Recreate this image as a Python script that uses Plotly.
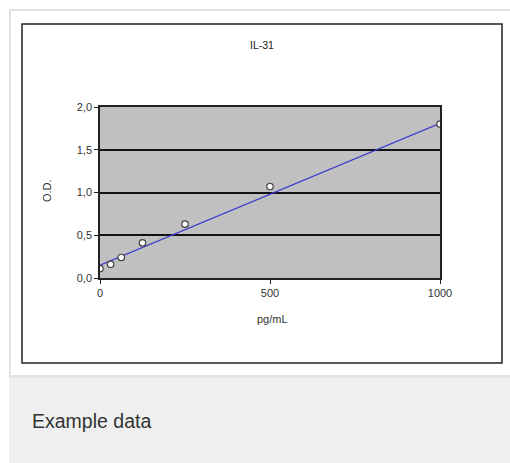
import plotly.graph_objects as go

# ---- data ----
conc_pg_ml = [0, 31.25, 62.5, 125, 250, 500, 1000]
od_values = [0.11, 0.16, 0.24, 0.41, 0.63, 1.07, 1.80]
fit_x = [0, 1000]
fit_y = [0.15, 1.81]
x_ticks = [0, 500, 1000]
y_ticks = [0.0, 0.5, 1.0, 1.5, 2.0]
y_tick_labels = ["0,0", "0,5", "1,0", "1,5", "2,0"]
title_text = "IL-31"
x_title = "pg/mL"
y_title = "O.D."
caption = "Example data"

W, H = 510, 463
L, R, T, B = 100, 440, 107, 278  # plot area in pixels


def px(x):
    return (x - L) / (R - L)


def py(y):
    return (B - y) / (B - T)


FONT = "Liberation Sans, Arial, sans-serif"

fig = go.Figure()
fig.add_trace(go.Scatter(
    x=fit_x, y=fit_y, mode="lines",
    line=dict(color="#3b3bd0", width=1.3),
    hoverinfo="skip", showlegend=False,
))
fig.add_trace(go.Scatter(
    x=conc_pg_ml, y=od_values, mode="markers",
    marker=dict(symbol="circle", size=6.5, color="white",
                line=dict(color="#444444", width=1.2)),
    showlegend=False,
))

shapes = [
    # outer light frame
    dict(type="rect", xref="paper", yref="paper",
         x0=px(10), x1=px(512), y0=py(376), y1=py(10),
         line=dict(color="#e2e2e2", width=2), fillcolor="rgba(0,0,0,0)", layer="below"),
    # caption panel
    dict(type="rect", xref="paper", yref="paper",
         x0=px(9), x1=px(512), y0=py(465), y1=py(377),
         line=dict(width=0), fillcolor="#eeefee", layer="below"),
    dict(type="line", xref="paper", yref="paper",
         x0=px(9), x1=px(512), y0=py(376.5), y1=py(376.5),
         line=dict(color="#e0e0e0", width=2), layer="below"),
    # chart black frame
    dict(type="rect", xref="paper", yref="paper",
         x0=px(22), x1=px(502), y0=py(363), y1=py(24),
         line=dict(color="#222222", width=1.5), fillcolor="rgba(0,0,0,0)", layer="below"),
]

annotations = [
    dict(text=title_text, xref="paper", yref="paper", x=px(262), y=py(45),
         showarrow=False, font=dict(family=FONT, size=10.5, color="#222222"),
         xanchor="center", yanchor="middle"),
    dict(text=x_title, xref="paper", yref="paper", x=px(272), y=py(319),
         showarrow=False, font=dict(family=FONT, size=11, color="#333333"),
         xanchor="center", yanchor="middle"),
    dict(text=y_title, xref="paper", yref="paper", x=px(47), y=py(191),
         showarrow=False, textangle=-90,
         font=dict(family=FONT, size=11, color="#333333"),
         xanchor="center", yanchor="middle"),
    dict(text=caption, xref="paper", yref="paper", x=px(30), y=py(421),
         showarrow=False, font=dict(family=FONT, size=19.5, color="#333333"),
         xanchor="left", yanchor="middle"),
]

fig.update_layout(
    width=W, height=H,
    margin=dict(l=L, r=W - R, t=T, b=H - B, pad=0),
    paper_bgcolor="white",
    plot_bgcolor="#c0c0c0",
    shapes=shapes,
    annotations=annotations,
    font=dict(family=FONT, size=11, color="#333333"),
    xaxis=dict(
        range=[0, 1000], tickvals=x_ticks, ticktext=[str(v) for v in x_ticks],
        showgrid=False, zeroline=False,
        showline=True, linecolor="#222222", linewidth=1.5, mirror=True,
        ticks="outside", ticklen=4, tickcolor="#222222", tickwidth=1,
        tickfont=dict(family=FONT, size=11, color="#333333"),
    ),
    yaxis=dict(
        range=[0, 2.0], tickvals=y_ticks, ticktext=y_tick_labels,
        showgrid=True, gridcolor="#111111", gridwidth=1.6, zeroline=False,
        showline=True, linecolor="#222222", linewidth=1.5, mirror=True,
        ticks="outside", ticklen=4, tickcolor="#222222", tickwidth=1,
        tickfont=dict(family=FONT, size=11, color="#333333"),
    ),
)

fig.write_html(
    "out.html",
    config={"displayModeBar": False},
    post_script="document.body.style.margin='0';document.body.style.overflow='hidden';",
)
